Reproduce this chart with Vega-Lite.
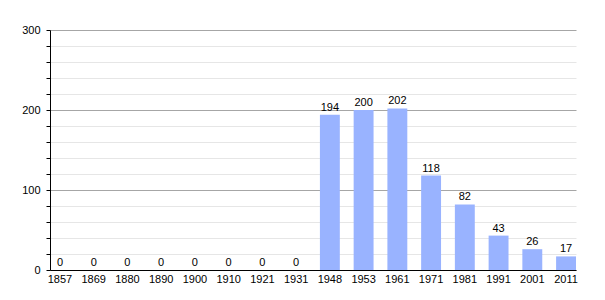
{
  "$schema": "https://vega.github.io/schema/vega-lite/v6.json",
  "width": 526,
  "height": 240,
  "autosize": {"type": "none"},
  "padding": {"left": 50, "top": 30, "right": 29, "bottom": 30},
  "background": "white",
  "config": {
    "view": {"stroke": null},
    "font": "Liberation Sans"
  },
  "data": {
    "values": [
      {"year": "1857", "pop": 0},
      {"year": "1869", "pop": 0},
      {"year": "1880", "pop": 0},
      {"year": "1890", "pop": 0},
      {"year": "1900", "pop": 0},
      {"year": "1910", "pop": 0},
      {"year": "1921", "pop": 0},
      {"year": "1931", "pop": 0},
      {"year": "1948", "pop": 194},
      {"year": "1953", "pop": 200},
      {"year": "1961", "pop": 202},
      {"year": "1971", "pop": 118},
      {"year": "1981", "pop": 82},
      {"year": "1991", "pop": 43},
      {"year": "2001", "pop": 26},
      {"year": "2011", "pop": 17}
    ]
  },
  "encoding": {
    "x": {
      "field": "year",
      "type": "ordinal",
      "sort": null,
      "scale": {"paddingInner": 0.41, "paddingOuter": 0},
      "axis": {
        "title": null,
        "labelAngle": 0,
        "labelFontSize": 11,
        "labelColor": "#000",
        "labelPadding": 3,
        "ticks": false,
        "domainColor": "#000",
        "domainWidth": 1
      }
    },
    "y": {
      "field": "pop",
      "type": "quantitative",
      "scale": {"domain": [0, 300], "nice": false},
      "axis": {
        "title": null,
        "values": [0, 20, 40, 60, 80, 100, 120, 140, 160, 180, 200, 220, 240, 260, 280, 300],
        "labelExpr": "datum.value % 100 === 0 ? datum.label : ''",
        "labelFontSize": 11,
        "labelColor": "#000",
        "labelPadding": 6,
        "tickSize": 4,
        "tickColor": "#000",
        "domainColor": "#000",
        "grid": true,
        "gridColor": {"condition": {"test": "datum.value % 100 === 0", "value": "#a6a6a6"}, "value": "#e6e6e6"},
        "gridOpacity": 1
      }
    }
  },
  "layer": [
    {
      "mark": {"type": "bar", "color": "#99b3ff"}
    },
    {
      "mark": {"type": "text", "dy": -7, "fontSize": 11, "color": "#000"},
      "encoding": {"text": {"field": "pop", "type": "quantitative"}}
    }
  ]
}
